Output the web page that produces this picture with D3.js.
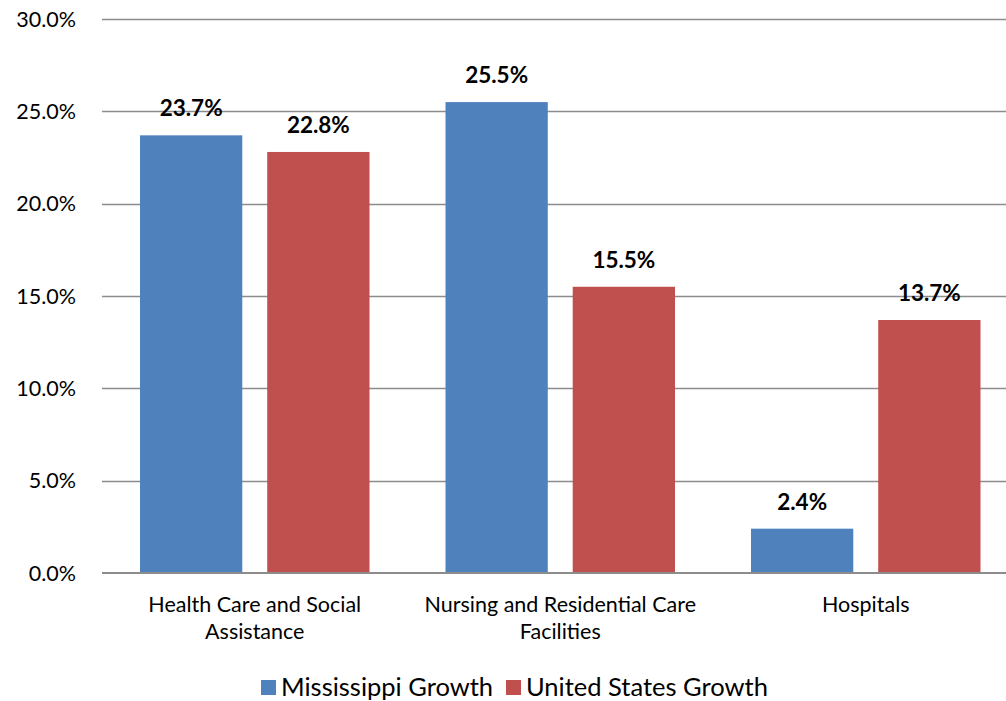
<!DOCTYPE html>
<html>
<head>
<meta charset="utf-8">
<script src="https://cdn.jsdelivr.net/npm/d3@7"></script>
<style>
  body { margin: 0; background: #fff; }
  svg text { font-family: Lato, "Open Sans", sans-serif; fill: #000; }
</style>
</head>
<body>
<div class="container"></div>
<script>
const WIDTH = 1006;
const HEIGHT = 701;

var categories = [
    ["Health Care and Social", "Assistance"],
    ["Nursing and Residential Care", "Facilities"],
    ["Hospitals"]
];
var seriesNames = ["Mississippi Growth", "United States Growth"];
var mississippi = [23.7, 25.5, 2.4];
var unitedStates = [22.8, 15.5, 13.7];
var yTicks = [0, 5, 10, 15, 20, 25, 30];
var colors = ["#4F81BD", "#C0504D"];

var translate = function(x, y) {
    return `translate(${x},${y})`;
};

var svg = d3.select('.container').append('svg')
    .attr('width', WIDTH)
    .attr('height', HEIGHT);

var yScale = d3.scaleLinear()
    .domain([0, 30])
    .range([573, 19]);

var x0 = d3.scaleBand()
    .domain(d3.range(categories.length))
    .range([102, 1018.5]);

var x1 = d3.scaleBand()
    .domain(d3.range(seriesNames.length))
    .range([38, x0.bandwidth() - 38])
    .paddingInner(0.196);

// gridlines
svg.append('g').selectAll('line').data(yTicks.slice(1)).enter()
    .append('line')
    .attr('x1', 102).attr('x2', WIDTH)
    .attr('y1', (d) => Math.round(yScale(d)) + 0.5)
    .attr('y2', (d) => Math.round(yScale(d)) + 0.5)
    .attr('stroke', '#8c8c8c')
    .attr('stroke-width', 1.5);

// y labels
svg.append('g').selectAll('text').data(yTicks).enter()
    .append('text')
    .attr('x', 76)
    .attr('y', (d) => yScale(d))
    .attr('dy', '0.36em')
    .attr('text-anchor', 'end')
    .style('font-size', '21.5px')
    .text((d) => d.toFixed(1) + '%');

// bars
var rows = categories.map((c, i) => [mississippi[i], unitedStates[i]]);
var groups = svg.append('g').selectAll('g').data(rows).enter()
    .append('g')
    .attr('transform', (d, i) => translate(x0(i), 0));

groups.selectAll('rect').data((d) => d).enter()
    .append('rect')
    .attr('x', (d, j) => x1(j))
    .attr('width', x1.bandwidth())
    .attr('y', (d) => yScale(d))
    .attr('height', (d) => yScale(0) - yScale(d))
    .attr('fill', (d, j) => colors[j]);

groups.selectAll('text.val').data((d) => d).enter()
    .append('text')
    .classed('val', true)
    .attr('x', (d, j) => x1(j) + x1.bandwidth() / 2)
    .attr('y', (d) => yScale(d) - 19)
    .attr('text-anchor', 'middle')
    .style('font-size', '22.5px')
    .style('font-weight', 'bold')
    .text((d) => d.toFixed(1) + '%');

// x axis line
svg.append('line')
    .attr('x1', 102).attr('x2', WIDTH)
    .attr('y1', yScale(0)).attr('y2', yScale(0))
    .attr('stroke', '#8c8c8c')
    .attr('stroke-width', 2);

// category labels
var catLabels = svg.append('g').selectAll('text').data(categories).enter()
    .append('text')
    .attr('text-anchor', 'middle')
    .style('font-size', '21.5px')
    .attr('transform', (d, i) => translate(x0(i) + x0.bandwidth() / 2, 612));
catLabels.selectAll('tspan').data((d) => d).enter()
    .append('tspan')
    .attr('x', 0)
    .attr('y', (d, k) => k * 27)
    .text((d) => d);

// legend
var legendX = [261, 506];
var legend = svg.append('g').selectAll('g').data(seriesNames).enter()
    .append('g')
    .attr('transform', (d, i) => translate(legendX[i], 680));
legend.append('rect')
    .attr('width', 15).attr('height', 15)
    .attr('fill', (d, i) => colors[i]);
legend.append('text')
    .attr('x', 20)
    .attr('y', 16)
    .style('font-size', '25.5px')
    .text((d) => d);
</script>
</body>
</html>
